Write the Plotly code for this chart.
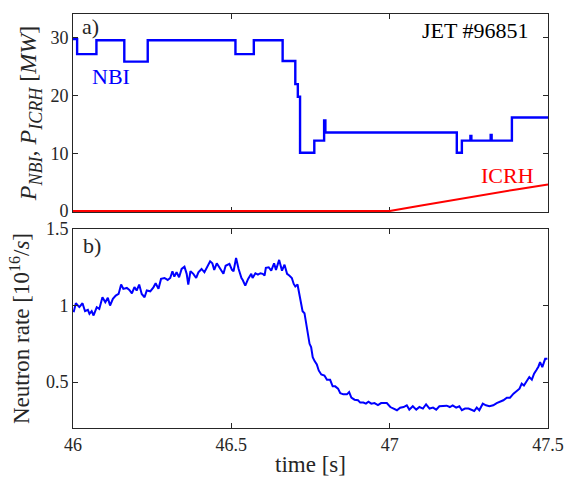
import plotly.graph_objects as go
from plotly.subplots import make_subplots

# ---- data ----
nbi_t = [46.000, 46.013, 46.074, 46.162, 46.236, 46.513, 46.571, 46.662, 46.702, 46.710,
         46.717, 46.762, 46.793, 46.797, 47.212, 47.228, 47.255, 47.258, 47.319, 47.322,
         47.386, 47.500]
nbi_v = [29.8, 27.2, 29.6, 25.9, 29.6, 27.2, 29.6, 26.0, 22.0, 19.8,
         10.1, 12.2, 15.7, 13.6, 10.1, 12.2, 13.0, 12.2, 13.2, 12.2,
         16.2, 16.2]

icrh_t = [46.000, 47.000, 47.100, 47.200, 47.300, 47.400, 47.500]
icrh_v = [0.0, 0.0, 0.95, 1.9, 2.85, 3.75, 4.6]

neut_t = [46.002, 46.009, 46.020, 46.030, 46.038, 46.047, 46.052, 46.059, 46.065, 46.075,
          46.083, 46.093, 46.102, 46.110, 46.117, 46.126, 46.135, 46.144, 46.152, 46.159,
          46.170, 46.178, 46.186, 46.194, 46.201, 46.209, 46.217, 46.226, 46.233, 46.244,
          46.254, 46.261, 46.270, 46.278, 46.289, 46.299, 46.307, 46.314, 46.320, 46.327,
          46.335, 46.343, 46.352, 46.359, 46.364, 46.371, 46.380, 46.389, 46.396, 46.406,
          46.415, 46.422, 46.433, 46.440, 46.446, 46.454, 46.464, 46.475, 46.482, 46.494,
          46.502, 46.507, 46.515, 46.523, 46.532, 46.536, 46.544, 46.553, 46.563, 46.567,
          46.576, 46.584, 46.592, 46.599, 46.605, 46.609, 46.618, 46.626, 46.635, 46.641,
          46.651, 46.660, 46.668, 46.676, 46.683, 46.691, 46.697, 46.702, 46.709, 46.714,
          46.721, 46.725, 46.731, 46.736, 46.742, 46.747, 46.752, 46.757, 46.763, 46.770,
          46.776, 46.784, 46.794, 46.802, 46.812, 46.820, 46.828, 46.837, 46.844, 46.854,
          46.865, 46.872, 46.879, 46.889, 46.900, 46.907, 46.917, 46.925, 46.933, 46.942,
          46.952, 46.963, 46.973, 46.984, 46.991, 47.002, 47.012, 47.023, 47.033, 47.044,
          47.054, 47.062, 47.073, 47.084, 47.094, 47.105, 47.115, 47.126, 47.137, 47.147,
          47.157, 47.170, 47.180, 47.190, 47.199, 47.210, 47.220, 47.228, 47.238, 47.249,
          47.259, 47.267, 47.275, 47.283, 47.294, 47.304, 47.315, 47.327, 47.338, 47.349,
          47.359, 47.370, 47.380, 47.391, 47.401, 47.410, 47.417, 47.424, 47.433, 47.441,
          47.449, 47.456, 47.464, 47.470, 47.475, 47.482, 47.491, 47.498]
neut_v = [0.956, 1.015, 0.990, 1.015, 0.963, 0.972, 0.946, 0.963, 0.935, 0.989,
          0.978, 1.054, 1.022, 1.050, 1.000, 1.044, 1.065, 1.076, 1.137, 1.109,
          1.115, 1.102, 1.080, 1.120, 1.098, 1.137, 1.076, 1.054, 1.098, 1.093,
          1.119, 1.145, 1.109, 1.174, 1.180, 1.167, 1.180, 1.224, 1.189, 1.217,
          1.185, 1.239, 1.254, 1.207, 1.137, 1.224, 1.207, 1.180, 1.217, 1.239,
          1.217, 1.246, 1.289, 1.276, 1.233, 1.276, 1.239, 1.207, 1.260, 1.272,
          1.233, 1.224, 1.311, 1.239, 1.180, 1.167, 1.130, 1.174, 1.207, 1.180,
          1.211, 1.202, 1.211, 1.207, 1.196, 1.246, 1.250, 1.228, 1.276, 1.233,
          1.298, 1.228, 1.267, 1.207, 1.196, 1.180, 1.141, 1.124, 1.137, 1.076,
          1.011, 0.963, 0.950, 0.881, 0.804, 0.750, 0.728, 0.663, 0.637, 0.615,
          0.576, 0.550, 0.543, 0.515, 0.515, 0.472, 0.472, 0.457, 0.428, 0.420,
          0.420, 0.435, 0.398, 0.385, 0.381, 0.366, 0.366, 0.359, 0.372, 0.359,
          0.363, 0.350, 0.363, 0.363, 0.363, 0.337, 0.327, 0.316, 0.333, 0.337,
          0.348, 0.320, 0.342, 0.320, 0.337, 0.327, 0.355, 0.327, 0.333, 0.320,
          0.342, 0.342, 0.346, 0.337, 0.348, 0.333, 0.342, 0.316, 0.327, 0.327,
          0.320, 0.311, 0.333, 0.316, 0.359, 0.348, 0.342, 0.348, 0.363, 0.370,
          0.381, 0.398, 0.398, 0.424, 0.441, 0.457, 0.490, 0.478, 0.507, 0.533,
          0.516, 0.555, 0.581, 0.602, 0.630, 0.598, 0.652, 0.652]

x_ticks = [46, 46.5, 47, 47.5]
x_ticklabels = ["46", "46.5", "47", "47.5"]
p_ticks = [0, 10, 20, 30]
n_ticks = [0.5, 1, 1.5]
n_ticklabels = ["0.5", "1", "1.5"]

FONT = "Liberation Serif"
AX = "#262626"

fig = make_subplots(rows=2, cols=1, shared_xaxes=False, vertical_spacing=0.04)

fig.add_trace(go.Scatter(x=nbi_t, y=nbi_v, mode="lines", line=dict(color="#0000FF", width=2.4, shape="hv"),
                         showlegend=False), row=1, col=1)
fig.add_trace(go.Scatter(x=icrh_t, y=icrh_v, mode="lines", line=dict(color="#FF0000", width=2),
                         showlegend=False), row=1, col=1)
fig.add_trace(go.Scatter(x=neut_t, y=neut_v, mode="lines", line=dict(color="#0000FF", width=2),
                         showlegend=False), row=2, col=1)

common_ax = dict(showline=True, linecolor=AX, linewidth=1, mirror="ticks", ticks="inside",
                 ticklen=5, tickcolor=AX, showgrid=False, zeroline=False, automargin=False,
                 tickfont=dict(family=FONT, size=18, color=AX))

fig.update_xaxes(range=[46, 47.5], tickvals=x_ticks, ticktext=x_ticklabels, **common_ax)
fig.update_xaxes(showticklabels=False, layer="below traces", row=1, col=1)
fig.update_xaxes(title=dict(text="time [s]", font=dict(family=FONT, size=23, color=AX), standoff=2),
                 row=2, col=1)
fig.update_yaxes(**common_ax)
sub = '<sub><span style="font-size:18px"><i>{}</i></span></sub>'
fig.update_yaxes(range=[-0.17, 34.15], tickvals=p_ticks, row=1, col=1,
                 title=dict(text="<i>P</i>" + sub.format("NBI") + ", <i>P</i>" + sub.format("ICRH")
                                 + " [<i>MW</i>]",
                            font=dict(family=FONT, size=24, color=AX), standoff=6))
fig.update_yaxes(range=[0.2, 1.5], tickvals=n_ticks, ticktext=n_ticklabels, row=2, col=1,
                 title=dict(text="Neutron rate [10<sup>16</sup>/<i>s</i>]",
                            font=dict(family=FONT, size=23, color=AX), standoff=9))

fig.update_layout(
    width=566, height=482,
    margin=dict(l=72.5, r=18, t=14, b=54),
    paper_bgcolor="white", plot_bgcolor="white",
    yaxis=dict(domain=[0.5217, 1.0]),
    yaxis2=dict(domain=[0.0, 0.4807]),
)

ann_font = dict(family=FONT, size=22)
fig.add_annotation(x=46.021, y=32.0, xref="x", yref="y", text="a)", showarrow=False,
                   xanchor="left", yanchor="middle", font=dict(color=AX, **ann_font))
fig.add_annotation(x=47.445, y=31.3, xref="x", yref="y", text="JET #96851", showarrow=False,
                   xanchor="right", yanchor="middle", font=dict(color="black", **ann_font))
fig.add_annotation(x=46.053, y=23.4, xref="x", yref="y", text="NBI", showarrow=False,
                   xanchor="left", yanchor="middle", font=dict(color="#0000FF", **ann_font))
fig.add_annotation(x=47.462, y=6.2, xref="x", yref="y", text="ICRH", showarrow=False,
                   xanchor="right", yanchor="middle", font=dict(color="#FF0000", **ann_font))
fig.add_annotation(x=46.024, y=1.391, xref="x2", yref="y2", text="b)", showarrow=False,
                   xanchor="left", yanchor="middle", font=dict(color=AX, **ann_font))

fig.write_html("out.html", config={"displayModeBar": False},
               post_script="document.body.style.margin='0px';")
